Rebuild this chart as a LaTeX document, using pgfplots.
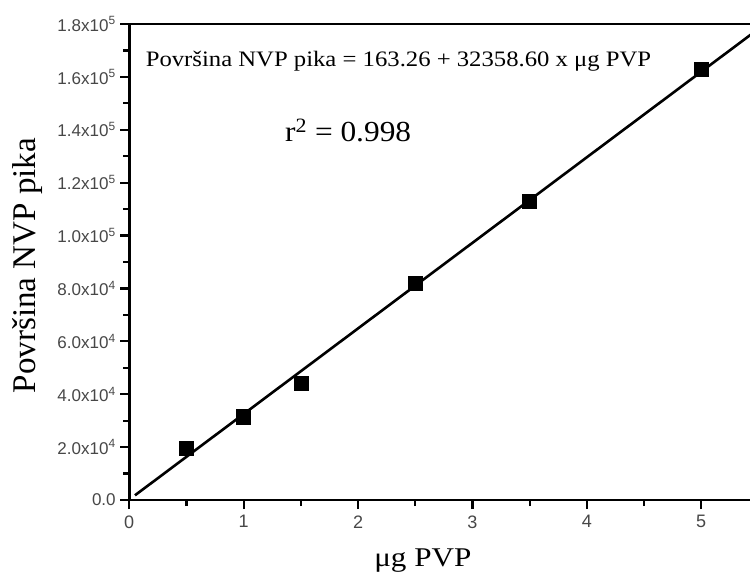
\documentclass[border=0pt]{standalone}
\usepackage{fontspec}
\setmainfont{Liberation Serif}
\newfontfamily\arial{Liberation Sans}
\usepackage{pgfplots}
\pgfplotsset{compat=1.18}

\begin{document}
\begin{tikzpicture}
\begin{axis}[
    name=ax, at={(0,0)}, anchor=south west,
    scale only axis, width=621pt, height=475pt,
    xmin=0, xmax=5.44, ymin=0, ymax=180000,
    xtick={0,1,2,3,4,5}, minor x tick num=1,
    ytick={0,20000,40000,60000,80000,100000,120000,140000,160000,180000},
    minor y tick num=1,
    yticklabels={0.0, 2.0x10\textsuperscript{4}, 4.0x10\textsuperscript{4}, 6.0x10\textsuperscript{4}, 8.0x10\textsuperscript{4}, 1.0x10\textsuperscript{5}, 1.2x10\textsuperscript{5}, 1.4x10\textsuperscript{5}, 1.6x10\textsuperscript{5}, 1.8x10\textsuperscript{5}},
    scaled y ticks=false,
    /pgf/number format/assume math mode=true,
    xtick pos=left, ytick pos=left,
    tick align=outside,
    major tick length=9pt, minor tick length=6pt,
    every tick/.style={black, line width=2.2pt},
    axis line style={line width=2.5pt},
    ticklabel style={font=\arial\fontsize{17}{17}\selectfont, text=black!72},
    xticklabel style={yshift=-3pt, font=\arial\fontsize{18}{18}\selectfont},
    yticklabel style={xshift=-1pt},
    clip=true,
]
\addplot[black, line width=2.6pt] coordinates {(0.05,1781) (5.6,181372)};
\addplot[only marks, mark=square*, mark size=7pt, mark options={black}] coordinates {
    (0.5,19700) (1.0,31500) (1.5,44000) (2.5,81900) (3.5,112900) (5.0,163000)
};
\node[anchor=base west, xscale=1.12, font=\fontsize{22}{22}\selectfont] at (axis cs:0.11,164000) {Površina NVP pika = 163.26 + 32358.60 x μg PVP};
\node[anchor=base west, xscale=1.08, font=\fontsize{29}{29}\selectfont] at (axis cs:1.33,135600) {r\textsuperscript{2} = 0.998};
\end{axis}
\node[rotate=90, anchor=base, font=\fontsize{33}{33}\selectfont] at (-94pt,234pt) {Površina NVP pika};
\node[anchor=base, xscale=1.15, font=\fontsize{27}{27}\selectfont] at (293pt,-66pt) {μg PVP};
\pgfresetboundingbox
\useasboundingbox (-129pt,-75pt) rectangle (619.5pt,499pt);
\end{tikzpicture}
\end{document}
